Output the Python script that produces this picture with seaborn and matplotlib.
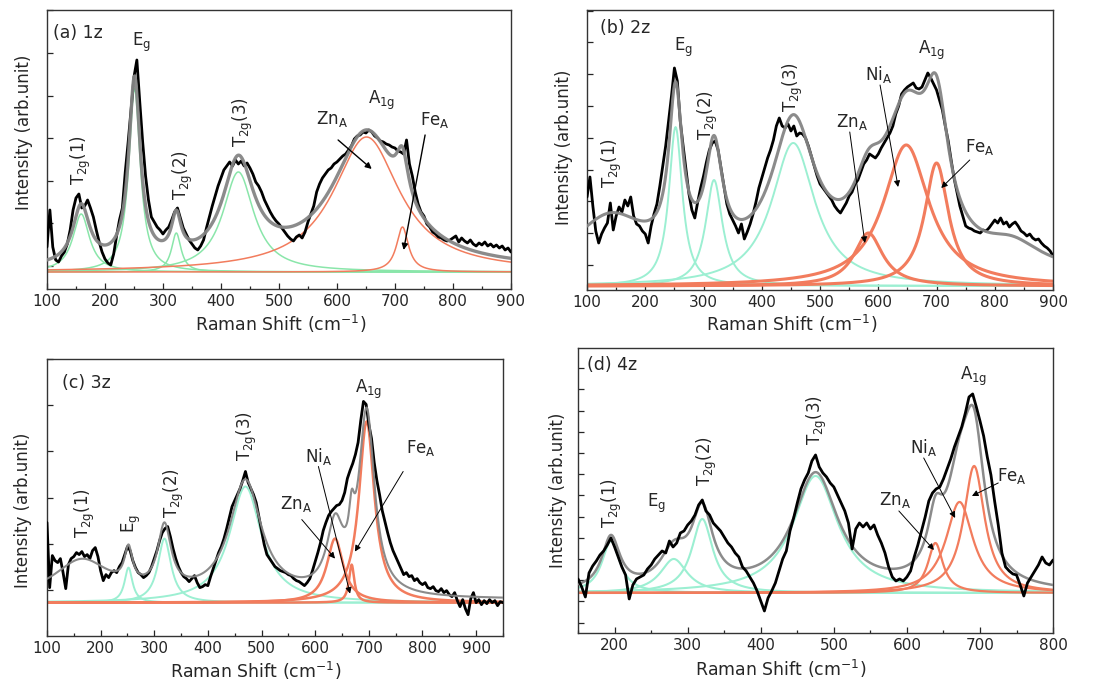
import numpy as np
import matplotlib
matplotlib.use("Agg")
import matplotlib.pyplot as plt
from matplotlib.ticker import MultipleLocator
import seaborn as sns

sns.set_style("ticks")
plt.rcParams['font.family'] = ['DejaVu Sans']
plt.rcParams['mathtext.default'] = 'regular'

a_shift = np.arange(100, 905, 5)
a_meas = [25, 62, 25, 12, 10, 16, 20, 28, 42, 62,
          74, 78, 64, 66, 72, 64, 55, 42, 30, 20,
          13, 9, 7, 18, 36, 52, 64, 100, 130, 162,
          195, 212, 170, 130, 96, 72, 55, 50, 45, 42,
          38, 42, 45, 52, 60, 64, 54, 44, 38, 32,
          28, 24, 22, 26, 32, 44, 55, 66, 76, 86,
          94, 102, 106, 110, 106, 112, 108, 111, 106, 109,
          104, 98, 90, 86, 80, 72, 66, 60, 55, 51,
          48, 44, 40, 36, 33, 31, 35, 37, 34, 40,
          50, 58, 66, 80, 88, 94, 98, 102, 104, 108,
          110, 113, 116, 118, 122, 126, 133, 136, 137, 140,
          139, 142, 140, 136, 134, 131, 130, 128, 127, 125,
          124, 121, 120, 118, 132, 108, 96, 80, 68, 60,
          56, 48, 45, 40, 38, 35, 34, 32, 31, 32,
          34, 36, 30, 34, 31, 29, 32, 28, 26, 29,
          27, 30, 26, 28, 25, 27, 24, 26, 22, 24,
          20]

b_shift = np.arange(100, 905, 5)
b_meas = [89, 109, 80, 55, 43, 52, 58, 63, 83, 56,
          70, 79, 74, 86, 80, 89, 70, 62, 60, 55,
          52, 43, 60, 72, 82, 100, 120, 140, 165, 190,
          218, 205, 165, 140, 116, 92, 76, 68, 84, 98,
          110, 124, 136, 143, 145, 136, 118, 100, 82, 72,
          66, 60, 53, 62, 47, 54, 62, 72, 84, 98,
          108, 118, 128, 136, 146, 160, 168, 160, 158, 162,
          155, 160, 150, 153, 152, 148, 140, 130, 120, 110,
          102, 98, 94, 90, 86, 80, 76, 73, 78, 83,
          90, 94, 102, 106, 114, 122, 126, 132, 130, 128,
          132, 138, 143, 148, 153, 160, 172, 180, 192, 196,
          199, 201, 203, 198, 197, 199, 206, 213, 208, 202,
          196, 186, 176, 160, 145, 126, 108, 94, 80, 70,
          60, 58, 57, 55, 54, 53, 56, 55, 58, 62,
          66, 63, 68, 62, 64, 59, 62, 64, 60, 55,
          53, 50, 52, 48, 46, 47, 43, 40, 38, 35,
          30]

c_shift = np.arange(100, 955, 5)
c_meas = [80, 15, 47, 42, 40, 44, 30, 14, 38, 44,
          46, 50, 48, 51, 46, 48, 44, 52, 55, 46,
          32, 22, 28, 25, 30, 32, 30, 36, 40, 48,
          56, 52, 42, 35, 30, 28, 25, 27, 30, 36,
          44, 52, 62, 70, 74, 76, 66, 54, 44, 36,
          30, 26, 24, 21, 24, 27, 20, 15, 16, 18,
          17, 26, 34, 42, 50, 56, 64, 74, 85, 96,
          102, 108, 114, 122, 131, 120, 114, 108, 100, 86,
          72, 58, 48, 44, 40, 36, 34, 32, 31, 30,
          28, 27, 24, 22, 21, 19, 17, 20, 24, 32,
          41, 50, 60, 72, 80, 87, 91, 94, 97, 98,
          102, 110, 124, 132, 139, 148, 160, 182, 201, 198,
          178, 164, 140, 122, 108, 92, 81, 70, 60, 52,
          46, 40, 34, 28, 30, 26, 27, 22, 24, 20,
          18, 20, 15, 14, 16, 12, 11, 14, 10, 12,
          8, 6, 10, 2, -4, 3, -6, -12, 4, 10,
          0, 3, -2, 2, -1, 3, 0, 2, -3, 1,
          0]

d_shift = np.arange(150, 805, 5)
d_meas = [14, 6, -4, 20, 27, 32, 38, 42, 48, 55,
          46, 36, 26, 18, -6, 8, 14, 16, 18, 24,
          28, 34, 38, 42, 40, 52, 46, 50, 60, 62,
          68, 72, 78, 88, 93, 82, 78, 70, 66, 62,
          56, 50, 46, 40, 36, 26, 22, 16, 10, 2,
          -8, -18, -5, 2, 10, 22, 34, 42, 62, 75,
          90, 104, 113, 120, 132, 138, 126, 120, 116, 110,
          106, 98, 90, 82, 70, 44, 64, 70, 66, 70,
          64, 68, 58, 50, 40, 26, 16, 12, 14, 12,
          16, 22, 36, 48, 62, 76, 92, 100, 104, 106,
          114, 124, 134, 146, 156, 166, 180, 196, 199, 186,
          172, 157, 136, 118, 92, 68, 40, 26, 22, 19,
          18, 8, -3, 10, 16, 22, 28, 36, 30, 28,
          33]

# ---------------- fitted Lorentzian components: centre, height, FWHM ----------------
# kinds: g = green (T2g/Eg modes), o = orange (A1g sub-bands), h = not drawn (only in the total fit)
a_pos = [159, 251, 323, 430, 651, 713]
a_amp = [58, 183, 39, 100, 135, 45]
a_fwhm = [35, 24, 20, 65, 140, 25]
a_kind = ['g', 'g', 'g', 'g', 'o', 'o']
a_base = 3

b_pos = [140, 252, 318, 454, 583, 648, 700, 830]
b_amp = [55, 159, 106, 143, 53, 141, 123, 23]
b_fwhm = [160, 28, 35, 90, 60, 95, 50, 120]
b_kind = ['h', 'g', 'g', 'g', 'o', 'o', 'o', 'h']
b_base = 10

c_pos = [165, 252, 319, 470, 637, 668, 696]
c_amp = [38, 35, 64, 116, 64, 38, 181]
c_fwhm = [130, 18, 30, 72, 37, 12, 35]
c_kind = ['h', 'g', 'g', 'g', 'o', 'o', 'o']
c_base = 3

d_pos = [195, 281, 320, 475, 639, 672, 692]
d_amp = [52, 34, 74, 117, 50, 91, 127]
d_fwhm = [30, 45, 35, 75, 25, 45, 35]
d_kind = ['g', 'g', 'g', 'g', 'o', 'o', 'o']
d_base = 0

# ---------------- peak labels: text, x, y, rotation ----------------
a_lab = [('T$_{2g}$(1)', 159, 112, 90), ('E$_g$', 263, 230, 0), ('T$_{2g}$(2)', 335, 97, 90),
         ('T$_{2g}$(3)', 438, 150, 90), ('Zn$_A$', 591, 153, 0), ('A$_{1g}$', 677, 172, 0),
         ('Fe$_A$', 769, 152, 0)]
a_arr = [((602, 132), (660, 103)), ((752, 137), (715, 22))]

b_lab = [('T$_{2g}$(1)', 142, 123, 90), ('E$_g$', 265, 239, 0), ('T$_{2g}$(2)', 308, 171, 90),
         ('T$_{2g}$(3)', 454, 199, 90), ('Zn$_A$', 554, 164, 0), ('Ni$_A$', 600, 211, 0),
         ('A$_{1g}$', 691, 236, 0), ('Fe$_A$', 774, 139, 0)]
b_arr = [((551, 154), (577, 43)), ((603, 201), (634, 99)), ((757, 126), (708, 98))]

c_lab = [('T$_{2g}$(1)', 171, 89, 90), ('E$_g$', 258, 79, 90), ('T$_{2g}$(2)', 336, 109, 90),
         ('T$_{2g}$(3)', 472, 166, 90), ('Zn$_A$', 565, 99, 0), ('Ni$_A$', 606, 146, 0),
         ('A$_{1g}$', 699, 213, 0), ('Fe$_A$', 798, 154, 0)]
c_arr = [((575, 83), (637, 44)), ((606, 136), (665, 9)), ((764, 131), (674, 51))]

d_lab = [('T$_{2g}$(1)', 197, 90, 90), ('E$_g$', 258, 90, 0), ('T$_{2g}$(2)', 327, 132, 90),
         ('T$_{2g}$(3)', 477, 173, 90), ('Zn$_A$', 584, 93, 0), ('Ni$_A$', 623, 145, 0),
         ('A$_{1g}$', 691, 217, 0), ('Fe$_A$', 744, 117, 0)]
d_arr = [((589, 82), (637, 43)), ((623, 135), (666, 75)), ((725, 110), (689, 97))]

GREEN_A = '#8ae6aa'
GREEN = '#9cefd2'
ORANGE = '#f27c5d'
GRAY = '#858585'


def lor(x, c, h, w):
    return h / (1.0 + ((x - c) / (w / 2.0)) ** 2)


fig = plt.figure(figsize=(10.95, 6.84), dpi=100)

panels = [
    dict(rect=[0.0429, 0.5775, 0.4237, 0.4079], tag='(a) 1z', tagpos=(0.013, 0.918),
         xlim=(100, 900), ylim=(-17, 262), yt=(6, 42.6), shift=a_shift, meas=a_meas,
         pos=a_pos, amp=a_amp, fwhm=a_fwhm, kind=a_kind, base=a_base, lab=a_lab, arr=a_arr,
         green=GREEN_A, lwc=(1.1, 1.1), lwfit=2.4, black_top=False, arrlw=1.0,
         ylab=(-0.030, 0.56), xlab=(0.504, -0.084)),
    dict(rect=[0.5361, 0.5753, 0.4256, 0.4101], tag='(b) 2z', tagpos=(0.028, 0.936),
         xlim=(100, 900), ylim=(-4.5, 276), yt=(21, 31.8), shift=b_shift, meas=b_meas,
         pos=b_pos, amp=b_amp, fwhm=b_fwhm, kind=b_kind, base=b_base, lab=b_lab, arr=b_arr,
         green=GREEN, lwc=(1.4, 2.2), lwfit=2.2, black_top=False, arrlw=0.7,
         ylab=(-0.030, 0.51), xlab=(0.44, -0.080)),
    dict(rect=[0.0429, 0.0702, 0.4164, 0.4050], tag='(c) 3z', tagpos=(0.033, 0.913),
         xlim=(100, 950), ylim=(-33.3, 243.4), yt=(13, 46), shift=c_shift, meas=c_meas,
         pos=c_pos, amp=c_amp, fwhm=c_fwhm, kind=c_kind, base=c_base, lab=c_lab, arr=c_arr,
         green=GREEN, lwc=(1.4, 1.8), lwfit=1.5, black_top=False, arrlw=0.7,
         ylab=(-0.033, 0.455), xlab=(0.458, -0.088)),
    dict(rect=[0.5279, 0.0746, 0.4338, 0.4167], tag='(d) 4z', tagpos=(0.019, 0.94),
         xlim=(150, 800), ylim=(-40, 245), yt=(-29.7, 21.2), shift=d_shift, meas=d_meas,
         pos=d_pos, amp=d_amp, fwhm=d_fwhm, kind=d_kind, base=d_base, lab=d_lab, arr=d_arr,
         green=GREEN, lwc=(1.5, 1.6), lwfit=1.8, black_top=True, arrlw=0.7,
         ylab=(-0.023, 0.50), xlab=(0.427, -0.086)),
]

for p in panels:
    ax = fig.add_axes(p['rect'])
    lo, hi = p['xlim']
    grid = np.arange(lo, hi + 0.5, 1.0)

    total = np.full_like(grid, float(p['base']))
    for c, h, w, k in zip(p['pos'], p['amp'], p['fwhm'], p['kind']):
        comp = lor(grid, c, h, w)
        total += comp
        if k == 'h':
            continue
        col = p['green'] if k == 'g' else ORANGE
        lw = p['lwc'][0] if k == 'g' else p['lwc'][1]
        sns.lineplot(x=grid, y=comp, ax=ax, color=col, linewidth=lw, estimator=None, zorder=2)

    zb, zf = (5, 4) if p['black_top'] else (3, 4)
    sns.lineplot(x=p['shift'], y=p['meas'], ax=ax, color='black', linewidth=2.0,
                 estimator=None, zorder=zb)
    sns.lineplot(x=grid, y=total, ax=ax, color=GRAY, linewidth=p['lwfit'], alpha=0.95,
                 estimator=None, zorder=zf)

    for txt, x, y, rot in p['lab']:
        ax.text(x, y, txt, ha='center', va='center', rotation=rot, fontsize=12, zorder=6)
    for tail, tip in p['arr']:
        ax.annotate('', xy=tip, xytext=tail,
                    arrowprops=dict(arrowstyle='-|>', color='black', lw=p['arrlw'],
                                    mutation_scale=9, shrinkA=0, shrinkB=0), zorder=6)

    ax.text(p['tagpos'][0], p['tagpos'][1], p['tag'], transform=ax.transAxes,
            ha='left', va='center', fontsize=12.5)

    ax.set_xlim(lo, hi)
    ax.set_ylim(*p['ylim'])
    ax.xaxis.set_major_locator(MultipleLocator(100))
    ax.xaxis.set_minor_locator(MultipleLocator(50))
    y0, dy = p['yt']
    ax.set_yticks(np.arange(y0, p['ylim'][1], dy))
    ax.tick_params(axis='y', labelleft=False)
    ax.tick_params(which='both', direction='in', top=False, right=False, labelsize=11)
    ax.tick_params(which='major', length=4, width=0.9)
    ax.tick_params(which='minor', length=2.5, width=0.9)
    for s in ax.spines.values():
        s.set_linewidth(1.0)
        s.set_color('#333333')

    ax.set_xlabel('Raman Shift (cm$^{-1}$)', fontsize=12.5)
    ax.set_ylabel('Intensity (arb.unit)', fontsize=12)
    ax.xaxis.set_label_coords(*p['xlab'])
    ax.yaxis.set_label_coords(*p['ylab'])

fig.savefig('out.png', dpi=100)
